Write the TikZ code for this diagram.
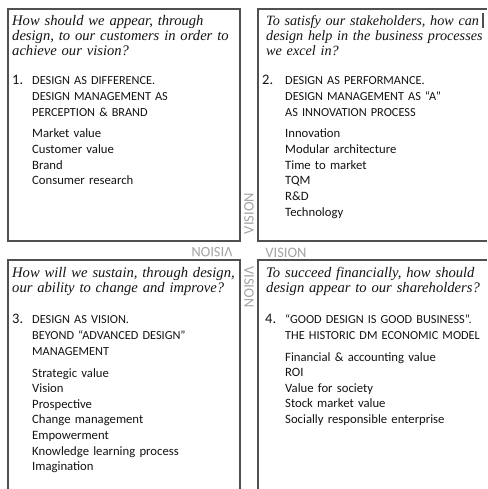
\documentclass[tikz,border=0pt]{standalone}
\usepackage{fontspec}
\setmainfont{Liberation Serif}
\setsansfont{Carlito}
\definecolor{boxgray}{HTML}{505050}
\definecolor{inkc}{HTML}{141213}
\definecolor{visgray}{HTML}{A3A3A3}
\begin{document}
\begin{tikzpicture}[x=1pt,y=-1pt,
  frame/.style={draw=boxgray,line width=1.2pt},
  qtext/.style={anchor=base west,inner sep=0pt,text width=260pt,align=left,text=inkc,font=\rmfamily\fontsize{14.6}{15}\selectfont\itshape},
  qnarrow/.style={qtext,font=\rmfamily\fontsize{14.2}{15}\selectfont\itshape},
  numtext/.style={anchor=base west,inner sep=0pt,text=inkc,font=\sffamily\fontsize{14.5}{16}\selectfont},
  headtext/.style={anchor=base west,inner sep=0pt,text width=220pt,align=left,text=inkc,font=\sffamily\fontsize{12.3}{16}\selectfont},
  itemtext/.style={anchor=base west,inner sep=0pt,text width=220pt,align=left,text=inkc,font=\sffamily\fontsize{12.7}{15.6}\selectfont},
  vislabel/.style={inner sep=0pt,text=visgray,font=\sffamily\fontsize{14.5}{14}\selectfont}
]
\useasboundingbox (0,0) rectangle (487,489);
% frames
\draw[frame] (8,9) rectangle (240,241);
\draw[frame] (487,9) -- (258,9) -- (258,241) -- (487,241);
\draw[frame] (8,489) -- (8,260) -- (240,260) -- (240,489);
\draw[frame] (487,260) -- (258,260) -- (258,489);
\coordinate (bartop) at (483,13);
\coordinate (barbot) at (483,28);
\draw[frame] (bartop) -- (barbot);
% box 1
\node[qtext] (q1) at (12,26) {How should we appear, through\\design, to our customers in order to\\achieve our vision?};
\node[numtext] (n1) at (12,85) {1.};
\node[headtext] (h1) at (32,85) {DESIGN AS DIFFERENCE.\\DESIGN MANAGEMENT AS\\PERCEPTION \& BRAND};
\node[itemtext] (l1) at (32,138) {Market value\\Customer value\\Brand\\Consumer research};
% box 2
\node[qnarrow] (q2) at (266,26) {To satisfy our stakeholders, how can\\design help in the business processes\\we excel in?};
\node[numtext] (n2) at (262,85) {2.};
\node[headtext] (h2) at (285,85) {DESIGN AS PERFORMANCE.\\DESIGN MANAGEMENT AS “A”\\AS INNOVATION PROCESS};
\node[itemtext] (l2) at (285,138) {Innovation\\Modular architecture\\Time to market\\TQM\\R\&D\\Technology};
% box 3
\node[qtext] (q3) at (12,277) {How will we sustain, through design,\\our ability to change and improve?};
\node[numtext] (n3) at (12,323.5) {3.};
\node[headtext] (h3) at (32,323.5) {DESIGN AS VISION.\\BEYOND “ADVANCED DESIGN”\\MANAGEMENT};
\node[itemtext] (l3) at (32,377) {Strategic value\\Vision\\Prospective\\Change management\\Empowerment\\Knowledge learning process\\Imagination};
% box 4
\node[qtext] (q4) at (266,277) {To succeed financially, how should\\design appear to our shareholders?};
\node[numtext] (n4) at (265,323.5) {4.};
\node[headtext] (h4) at (285,323.5) {“GOOD DESIGN IS GOOD BUSINESS”.\\THE HISTORIC DM ECONOMIC MODEL};
\node[itemtext] (l4) at (285,361) {Financial \& accounting value\\ROI\\Value for society\\Stock market value\\Socially responsible enterprise};
% VISION labels
\node[vislabel,rotate=90] (v1) at (249,213.5) {VISION};
\node[vislabel,rotate=180] (v2) at (212,252.5) {VISION};
\node[vislabel] (v3) at (286,252.5) {VISION};
\node[vislabel,rotate=-90] (v4) at (249,287) {VISION};
\end{tikzpicture}
\end{document}
